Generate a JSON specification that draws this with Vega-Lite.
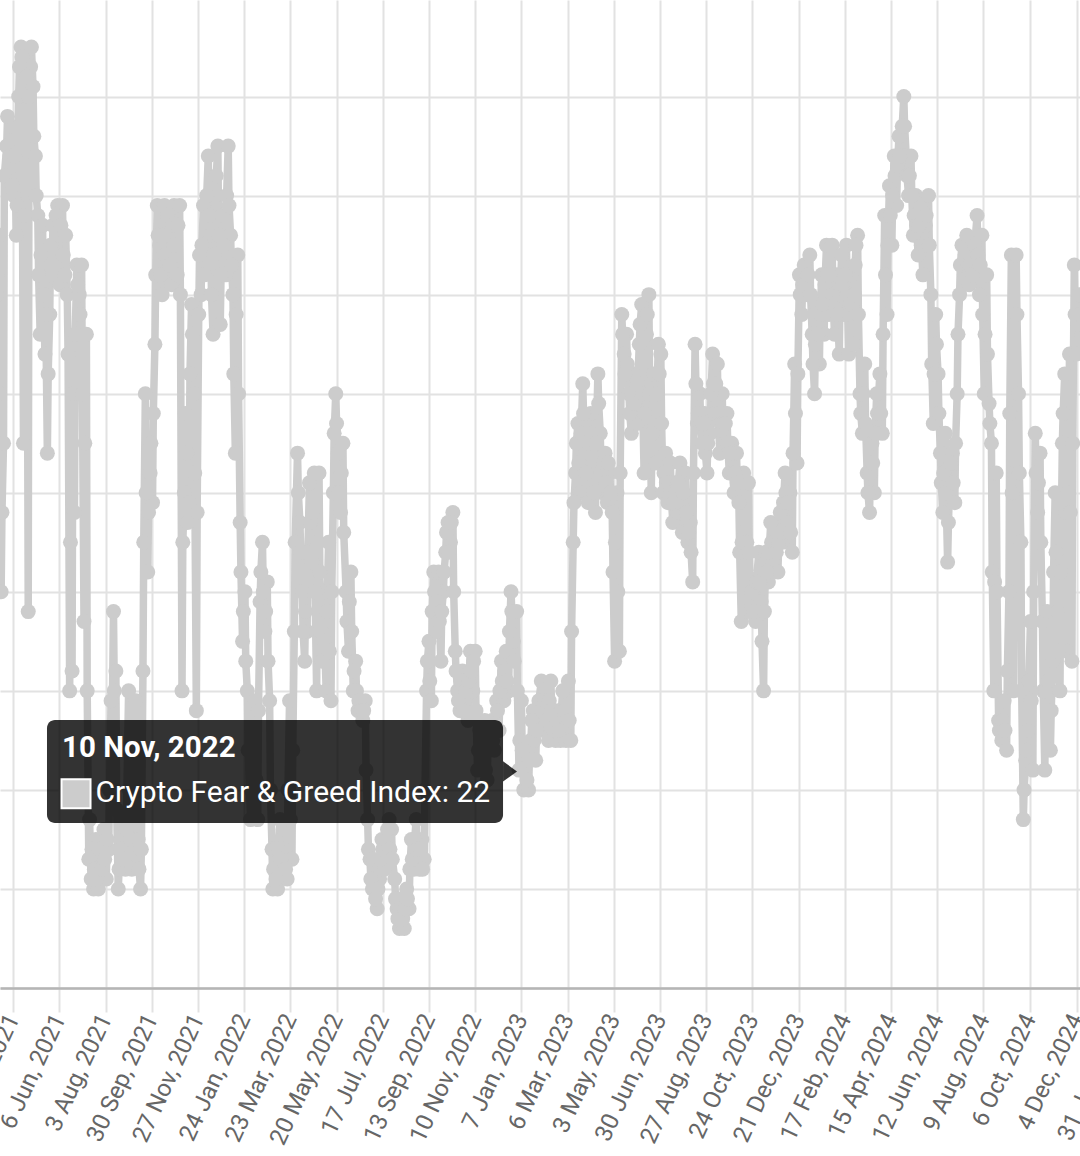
{
  "$schema": "https://vega.github.io/schema/vega-lite/v6.json",
  "width": 1080,
  "height": 988,
  "autosize": {"type": "none"},
  "padding": {"left": 0, "top": 0, "right": 0, "bottom": 168},
  "background": "#ffffff",
  "config": {"view": {"stroke": null}},
  "datasets": {
    "fg": [
      {"d":"2021-03-19","v":70},{"d":"2021-03-22","v":76},{"d":"2021-03-25","v":40},{"d":"2021-03-28","v":55},
      {"d":"2021-04-01","v":85},{"d":"2021-04-04","v":82},{"d":"2021-04-07","v":87},{"d":"2021-04-10","v":80},{"d":"2021-04-13","v":76},{"d":"2021-04-16","v":90},{"d":"2021-04-19","v":95},{"d":"2021-04-22","v":55},{"d":"2021-04-25","v":94},{"d":"2021-04-28","v":38},
      {"d":"2021-05-01","v":93},{"d":"2021-05-04","v":91},{"d":"2021-05-07","v":84},{"d":"2021-05-10","v":78},{"d":"2021-05-13","v":66},{"d":"2021-05-16","v":77},{"d":"2021-05-19","v":64},{"d":"2021-05-22","v":54},{"d":"2021-05-25","v":68},{"d":"2021-05-28","v":72},
      {"d":"2021-06-01","v":75},{"d":"2021-06-04","v":79},{"d":"2021-06-07","v":71},{"d":"2021-06-10","v":79},{"d":"2021-06-13","v":72},{"d":"2021-06-16","v":70},{"d":"2021-06-19","v":30},{"d":"2021-06-22","v":32},{"d":"2021-06-25","v":48},{"d":"2021-06-28","v":73},
      {"d":"2021-07-01","v":70},{"d":"2021-07-04","v":73},{"d":"2021-07-07","v":37},{"d":"2021-07-10","v":66},{"d":"2021-07-13","v":13},{"d":"2021-07-16","v":11},{"d":"2021-07-19","v":10},{"d":"2021-07-22","v":15},{"d":"2021-07-25","v":10},{"d":"2021-07-28","v":14},
      {"d":"2021-08-01","v":16},{"d":"2021-08-04","v":11},{"d":"2021-08-07","v":14},{"d":"2021-08-10","v":29},{"d":"2021-08-13","v":38},{"d":"2021-08-16","v":32},{"d":"2021-08-19","v":10},{"d":"2021-08-22","v":14},{"d":"2021-08-25","v":17},{"d":"2021-08-28","v":12},
      {"d":"2021-09-01","v":30},{"d":"2021-09-04","v":15},{"d":"2021-09-07","v":13},{"d":"2021-09-10","v":29},{"d":"2021-09-13","v":15},{"d":"2021-09-16","v":10},{"d":"2021-09-19","v":32},{"d":"2021-09-22","v":60},{"d":"2021-09-25","v":42},{"d":"2021-09-28","v":52},
      {"d":"2021-10-01","v":49},{"d":"2021-10-04","v":65},{"d":"2021-10-07","v":79},{"d":"2021-10-10","v":75},{"d":"2021-10-13","v":70},{"d":"2021-10-16","v":79},{"d":"2021-10-19","v":72},{"d":"2021-10-22","v":76},{"d":"2021-10-25","v":71},{"d":"2021-10-28","v":79},
      {"d":"2021-11-01","v":72},{"d":"2021-11-04","v":79},{"d":"2021-11-07","v":30},{"d":"2021-11-10","v":50},{"d":"2021-11-13","v":54},{"d":"2021-11-16","v":49},{"d":"2021-11-19","v":69},{"d":"2021-11-22","v":60},{"d":"2021-11-25","v":28},{"d":"2021-11-28","v":68},
      {"d":"2021-12-01","v":70},{"d":"2021-12-04","v":79},{"d":"2021-12-07","v":74},{"d":"2021-12-10","v":84},{"d":"2021-12-13","v":76},{"d":"2021-12-16","v":66},{"d":"2021-12-19","v":80},{"d":"2021-12-22","v":85},{"d":"2021-12-25","v":67},{"d":"2021-12-28","v":78},
      {"d":"2022-01-01","v":72},{"d":"2022-01-04","v":85},{"d":"2022-01-07","v":76},{"d":"2022-01-10","v":70},{"d":"2022-01-13","v":54},{"d":"2022-01-16","v":74},{"d":"2022-01-19","v":47},{"d":"2022-01-22","v":35},{"d":"2022-01-25","v":40},{"d":"2022-01-28","v":30},
      {"d":"2022-02-01","v":17},{"d":"2022-02-04","v":22},{"d":"2022-02-07","v":29},{"d":"2022-02-10","v":17},{"d":"2022-02-13","v":39},{"d":"2022-02-16","v":45},{"d":"2022-02-19","v":36},{"d":"2022-02-22","v":41},{"d":"2022-02-25","v":29},{"d":"2022-02-28","v":14},
      {"d":"2022-03-01","v":10},{"d":"2022-03-04","v":14},{"d":"2022-03-07","v":10},{"d":"2022-03-10","v":17},{"d":"2022-03-13","v":12},{"d":"2022-03-16","v":14},{"d":"2022-03-19","v":11},{"d":"2022-03-22","v":29},{"d":"2022-03-25","v":13},{"d":"2022-03-28","v":36},
      {"d":"2022-04-01","v":54},{"d":"2022-04-04","v":47},{"d":"2022-04-07","v":40},{"d":"2022-04-10","v":33},{"d":"2022-04-13","v":36},{"d":"2022-04-16","v":51},{"d":"2022-04-19","v":43},{"d":"2022-04-22","v":52},{"d":"2022-04-25","v":30},{"d":"2022-04-28","v":52},
      {"d":"2022-05-01","v":36},{"d":"2022-05-04","v":40},{"d":"2022-05-07","v":30},{"d":"2022-05-10","v":45},{"d":"2022-05-13","v":29},{"d":"2022-05-16","v":50},{"d":"2022-05-19","v":60},{"d":"2022-05-22","v":54},{"d":"2022-05-25","v":48},{"d":"2022-05-28","v":55},
      {"d":"2022-06-01","v":40},{"d":"2022-06-04","v":34},{"d":"2022-06-07","v":42},{"d":"2022-06-10","v":30},{"d":"2022-06-13","v":33},{"d":"2022-06-16","v":28},{"d":"2022-06-19","v":29},{"d":"2022-06-22","v":27},{"d":"2022-06-25","v":29},{"d":"2022-06-28","v":17},
      {"d":"2022-07-01","v":13},{"d":"2022-07-04","v":10},{"d":"2022-07-07","v":12},{"d":"2022-07-10","v":8},{"d":"2022-07-13","v":11},{"d":"2022-07-16","v":15},{"d":"2022-07-19","v":12},{"d":"2022-07-22","v":14},{"d":"2022-07-25","v":17},{"d":"2022-07-28","v":16},
      {"d":"2022-08-01","v":11},{"d":"2022-08-04","v":8},{"d":"2022-08-07","v":6},{"d":"2022-08-10","v":9},{"d":"2022-08-13","v":6},{"d":"2022-08-16","v":10},{"d":"2022-08-19","v":8},{"d":"2022-08-22","v":15},{"d":"2022-08-25","v":12},{"d":"2022-08-28","v":17},
      {"d":"2022-09-01","v":12},{"d":"2022-09-04","v":15},{"d":"2022-09-07","v":13},{"d":"2022-09-10","v":30},{"d":"2022-09-13","v":35},{"d":"2022-09-16","v":29},{"d":"2022-09-19","v":42},{"d":"2022-09-22","v":36},{"d":"2022-09-25","v":42},{"d":"2022-09-28","v":33},
      {"d":"2022-10-01","v":40},{"d":"2022-10-04","v":44},{"d":"2022-10-07","v":47},{"d":"2022-10-10","v":45},{"d":"2022-10-13","v":48},{"d":"2022-10-16","v":34},{"d":"2022-10-19","v":30},{"d":"2022-10-22","v":28},{"d":"2022-10-25","v":32},{"d":"2022-10-28","v":29},
      {"d":"2022-11-01","v":27},{"d":"2022-11-04","v":34},{"d":"2022-11-07","v":30},{"d":"2022-11-10","v":34},{"d":"2022-11-13","v":22},{"d":"2022-11-16","v":26},{"d":"2022-11-19","v":23},{"d":"2022-11-22","v":27},{"d":"2022-11-25","v":21},{"d":"2022-11-28","v":25},
      {"d":"2022-12-01","v":27},{"d":"2022-12-04","v":24},{"d":"2022-12-07","v":29},{"d":"2022-12-10","v":26},{"d":"2022-12-13","v":33},{"d":"2022-12-16","v":29},{"d":"2022-12-19","v":34},{"d":"2022-12-22","v":30},{"d":"2022-12-25","v":40},{"d":"2022-12-28","v":35},
      {"d":"2023-01-01","v":38},{"d":"2023-01-04","v":22},{"d":"2023-01-07","v":29},{"d":"2023-01-10","v":20},{"d":"2023-01-13","v":24},{"d":"2023-01-16","v":20},{"d":"2023-01-19","v":25},{"d":"2023-01-22","v":28},{"d":"2023-01-25","v":23},{"d":"2023-01-28","v":27},
      {"d":"2023-02-01","v":31},{"d":"2023-02-04","v":26},{"d":"2023-02-07","v":30},{"d":"2023-02-10","v":25},{"d":"2023-02-13","v":31},{"d":"2023-02-16","v":27},{"d":"2023-02-19","v":25},{"d":"2023-02-22","v":28},{"d":"2023-02-25","v":25},{"d":"2023-02-28","v":30},
      {"d":"2023-03-01","v":26},{"d":"2023-03-04","v":25},{"d":"2023-03-07","v":31},{"d":"2023-03-10","v":25},{"d":"2023-03-13","v":45},{"d":"2023-03-16","v":52},{"d":"2023-03-19","v":57},{"d":"2023-03-22","v":50},{"d":"2023-03-25","v":61},{"d":"2023-03-28","v":55},
      {"d":"2023-04-01","v":49},{"d":"2023-04-04","v":58},{"d":"2023-04-07","v":53},{"d":"2023-04-10","v":48},{"d":"2023-04-13","v":62},{"d":"2023-04-16","v":56},{"d":"2023-04-19","v":50},{"d":"2023-04-22","v":54},{"d":"2023-04-25","v":49},{"d":"2023-04-28","v":52},
      {"d":"2023-05-01","v":48},{"d":"2023-05-04","v":33},{"d":"2023-05-07","v":50},{"d":"2023-05-10","v":34},{"d":"2023-05-13","v":68},{"d":"2023-05-16","v":64},{"d":"2023-05-19","v":66},{"d":"2023-05-22","v":60},{"d":"2023-05-25","v":56},{"d":"2023-05-28","v":62},
      {"d":"2023-06-01","v":57},{"d":"2023-06-04","v":65},{"d":"2023-06-07","v":69},{"d":"2023-06-10","v":52},{"d":"2023-06-13","v":66},{"d":"2023-06-16","v":70},{"d":"2023-06-19","v":50},{"d":"2023-06-22","v":62},{"d":"2023-06-25","v":53},{"d":"2023-06-28","v":65},
      {"d":"2023-07-01","v":64},{"d":"2023-07-04","v":50},{"d":"2023-07-07","v":54},{"d":"2023-07-10","v":49},{"d":"2023-07-13","v":53},{"d":"2023-07-16","v":47},{"d":"2023-07-19","v":51},{"d":"2023-07-22","v":48},{"d":"2023-07-25","v":53},{"d":"2023-07-28","v":46},
      {"d":"2023-08-01","v":52},{"d":"2023-08-04","v":45},{"d":"2023-08-07","v":47},{"d":"2023-08-10","v":41},{"d":"2023-08-13","v":65},{"d":"2023-08-16","v":57},{"d":"2023-08-19","v":60},{"d":"2023-08-22","v":55},{"d":"2023-08-25","v":58},{"d":"2023-08-28","v":52},
      {"d":"2023-09-01","v":56},{"d":"2023-09-04","v":64},{"d":"2023-09-07","v":58},{"d":"2023-09-10","v":63},{"d":"2023-09-13","v":54},{"d":"2023-09-16","v":60},{"d":"2023-09-19","v":55},{"d":"2023-09-22","v":58},{"d":"2023-09-25","v":52},{"d":"2023-09-28","v":55},
      {"d":"2023-10-01","v":50},{"d":"2023-10-04","v":54},{"d":"2023-10-07","v":49},{"d":"2023-10-10","v":37},{"d":"2023-10-13","v":52},{"d":"2023-10-16","v":38},{"d":"2023-10-19","v":51},{"d":"2023-10-22","v":38},{"d":"2023-10-25","v":40},{"d":"2023-10-28","v":37},
      {"d":"2023-11-01","v":44},{"d":"2023-11-04","v":39},{"d":"2023-11-07","v":30},{"d":"2023-11-10","v":44},{"d":"2023-11-13","v":41},{"d":"2023-11-16","v":47},{"d":"2023-11-19","v":43},{"d":"2023-11-22","v":46},{"d":"2023-11-25","v":42},{"d":"2023-11-28","v":48},
      {"d":"2023-12-01","v":45},{"d":"2023-12-04","v":52},{"d":"2023-12-07","v":47},{"d":"2023-12-10","v":50},{"d":"2023-12-13","v":44},{"d":"2023-12-16","v":63},{"d":"2023-12-19","v":53},{"d":"2023-12-22","v":72},{"d":"2023-12-25","v":68},{"d":"2023-12-28","v":73},
      {"d":"2024-01-01","v":70},{"d":"2024-01-04","v":74},{"d":"2024-01-07","v":66},{"d":"2024-01-10","v":60},{"d":"2024-01-13","v":69},{"d":"2024-01-16","v":63},{"d":"2024-01-19","v":72},{"d":"2024-01-22","v":66},{"d":"2024-01-25","v":75},{"d":"2024-01-28","v":68},
      {"d":"2024-02-01","v":75},{"d":"2024-02-04","v":66},{"d":"2024-02-07","v":72},{"d":"2024-02-10","v":64},{"d":"2024-02-13","v":74},{"d":"2024-02-16","v":68},{"d":"2024-02-19","v":75},{"d":"2024-02-22","v":64},{"d":"2024-02-25","v":72},{"d":"2024-02-28","v":65},
      {"d":"2024-03-01","v":73},{"d":"2024-03-04","v":76},{"d":"2024-03-07","v":60},{"d":"2024-03-10","v":56},{"d":"2024-03-13","v":63},{"d":"2024-03-16","v":52},{"d":"2024-03-19","v":48},{"d":"2024-03-22","v":55},{"d":"2024-03-25","v":50},{"d":"2024-03-28","v":60},
      {"d":"2024-04-01","v":62},{"d":"2024-04-04","v":56},{"d":"2024-04-07","v":78},{"d":"2024-04-10","v":68},{"d":"2024-04-13","v":81},{"d":"2024-04-16","v":75},{"d":"2024-04-19","v":84},{"d":"2024-04-22","v":79},{"d":"2024-04-25","v":86},{"d":"2024-04-28","v":83},
      {"d":"2024-05-01","v":90},{"d":"2024-05-04","v":84},{"d":"2024-05-07","v":80},{"d":"2024-05-10","v":84},{"d":"2024-05-13","v":76},{"d":"2024-05-16","v":80},{"d":"2024-05-19","v":74},{"d":"2024-05-22","v":79},{"d":"2024-05-25","v":72},{"d":"2024-05-28","v":77},
      {"d":"2024-06-01","v":80},{"d":"2024-06-04","v":70},{"d":"2024-06-07","v":57},{"d":"2024-06-10","v":68},{"d":"2024-06-13","v":62},{"d":"2024-06-16","v":54},{"d":"2024-06-19","v":48},{"d":"2024-06-22","v":56},{"d":"2024-06-25","v":43},{"d":"2024-06-28","v":52},
      {"d":"2024-07-01","v":54},{"d":"2024-07-04","v":49},{"d":"2024-07-07","v":60},{"d":"2024-07-10","v":70},{"d":"2024-07-13","v":75},{"d":"2024-07-16","v":72},{"d":"2024-07-19","v":76},{"d":"2024-07-22","v":71},{"d":"2024-07-25","v":74},{"d":"2024-07-28","v":72},
      {"d":"2024-08-01","v":78},{"d":"2024-08-04","v":70},{"d":"2024-08-07","v":76},{"d":"2024-08-10","v":60},{"d":"2024-08-13","v":72},{"d":"2024-08-16","v":59},{"d":"2024-08-19","v":55},{"d":"2024-08-22","v":30},{"d":"2024-08-25","v":52},{"d":"2024-08-28","v":27},
      {"d":"2024-09-01","v":25},{"d":"2024-09-04","v":29},{"d":"2024-09-07","v":24},{"d":"2024-09-10","v":40},{"d":"2024-09-13","v":74},{"d":"2024-09-16","v":30},{"d":"2024-09-19","v":74},{"d":"2024-09-22","v":60},{"d":"2024-09-25","v":45},{"d":"2024-09-28","v":17},
      {"d":"2024-10-01","v":23},{"d":"2024-10-04","v":26},{"d":"2024-10-07","v":37},{"d":"2024-10-10","v":22},{"d":"2024-10-13","v":56},{"d":"2024-10-16","v":48},{"d":"2024-10-19","v":54},{"d":"2024-10-22","v":37},{"d":"2024-10-25","v":22},{"d":"2024-10-28","v":38},
      {"d":"2024-11-01","v":24},{"d":"2024-11-04","v":33},{"d":"2024-11-07","v":50},{"d":"2024-11-10","v":38},{"d":"2024-11-13","v":30},{"d":"2024-11-16","v":55},{"d":"2024-11-19","v":62},{"d":"2024-11-22","v":34},{"d":"2024-11-25","v":64},{"d":"2024-11-28","v":33},
      {"d":"2024-12-01","v":73},{"d":"2024-12-04","v":64},{"d":"2024-12-07","v":70},{"d":"2024-12-10","v":66},

      {"d":"2021-03-20","v":72},{"d":"2021-03-23","v":60},{"d":"2021-03-26","v":48},{"d":"2021-03-29","v":82},
      {"d":"2021-04-02","v":88},{"d":"2021-04-05","v":84},{"d":"2021-04-08","v":81},{"d":"2021-04-11","v":84},{"d":"2021-04-14","v":79},{"d":"2021-04-17","v":93},{"d":"2021-04-20","v":94},{"d":"2021-04-23","v":78},{"d":"2021-04-26","v":92},{"d":"2021-04-29","v":90},
      {"d":"2021-05-02","v":95},{"d":"2021-05-05","v":86},{"d":"2021-05-08","v":80},{"d":"2021-05-11","v":72},{"d":"2021-05-14","v":74},{"d":"2021-05-17","v":70},{"d":"2021-05-20","v":68},{"d":"2021-05-23","v":62},{"d":"2021-05-26","v":75},{"d":"2021-05-29","v":77},
      {"d":"2021-06-02","v":78},{"d":"2021-06-05","v":76},{"d":"2021-06-08","v":77},{"d":"2021-06-11","v":74},{"d":"2021-06-14","v":76},{"d":"2021-06-17","v":64},{"d":"2021-06-20","v":45},{"d":"2021-06-23","v":60},{"d":"2021-06-26","v":66},{"d":"2021-06-29","v":71},
      {"d":"2021-07-02","v":68},{"d":"2021-07-05","v":60},{"d":"2021-07-08","v":55},{"d":"2021-07-11","v":30},{"d":"2021-07-14","v":17},{"d":"2021-07-17","v":14},{"d":"2021-07-20","v":12},{"d":"2021-07-23","v":11},{"d":"2021-07-26","v":14},{"d":"2021-07-29","v":12},
      {"d":"2021-08-02","v":13},{"d":"2021-08-05","v":15},{"d":"2021-08-08","v":20},{"d":"2021-08-11","v":24},{"d":"2021-08-14","v":30},{"d":"2021-08-17","v":18},{"d":"2021-08-20","v":12},{"d":"2021-08-23","v":16},{"d":"2021-08-26","v":13},{"d":"2021-08-29","v":16},
      {"d":"2021-09-02","v":20},{"d":"2021-09-05","v":12},{"d":"2021-09-08","v":18},{"d":"2021-09-11","v":20},{"d":"2021-09-14","v":12},{"d":"2021-09-17","v":14},{"d":"2021-09-20","v":45},{"d":"2021-09-23","v":50},{"d":"2021-09-26","v":48},{"d":"2021-09-29","v":55},
      {"d":"2021-10-02","v":58},{"d":"2021-10-05","v":72},{"d":"2021-10-08","v":76},{"d":"2021-10-11","v":72},{"d":"2021-10-14","v":76},{"d":"2021-10-17","v":74},{"d":"2021-10-20","v":78},{"d":"2021-10-23","v":73},{"d":"2021-10-26","v":77},{"d":"2021-10-29","v":75},
      {"d":"2021-11-02","v":77},{"d":"2021-11-05","v":70},{"d":"2021-11-08","v":45},{"d":"2021-11-11","v":58},{"d":"2021-11-14","v":47},{"d":"2021-11-17","v":62},{"d":"2021-11-20","v":66},{"d":"2021-11-23","v":52},{"d":"2021-11-26","v":48},{"d":"2021-11-29","v":74},
      {"d":"2021-12-02","v":75},{"d":"2021-12-05","v":72},{"d":"2021-12-08","v":80},{"d":"2021-12-11","v":78},{"d":"2021-12-14","v":70},{"d":"2021-12-17","v":74},{"d":"2021-12-20","v":82},{"d":"2021-12-23","v":76},{"d":"2021-12-26","v":72},{"d":"2021-12-29","v":75},
      {"d":"2022-01-02","v":80},{"d":"2022-01-05","v":79},{"d":"2022-01-08","v":73},{"d":"2022-01-11","v":62},{"d":"2022-01-14","v":68},{"d":"2022-01-17","v":60},{"d":"2022-01-20","v":42},{"d":"2022-01-23","v":38},{"d":"2022-01-26","v":33},{"d":"2022-01-29","v":24},
      {"d":"2022-02-02","v":20},{"d":"2022-02-05","v":25},{"d":"2022-02-08","v":21},{"d":"2022-02-11","v":28},{"d":"2022-02-14","v":42},{"d":"2022-02-17","v":40},{"d":"2022-02-20","v":38},{"d":"2022-02-23","v":33},{"d":"2022-02-26","v":20},
      {"d":"2022-03-02","v":12},{"d":"2022-03-05","v":11},{"d":"2022-03-08","v":14},{"d":"2022-03-11","v":13},{"d":"2022-03-14","v":16},{"d":"2022-03-17","v":12},{"d":"2022-03-20","v":20},{"d":"2022-03-23","v":17},{"d":"2022-03-26","v":24},{"d":"2022-03-29","v":45},
      {"d":"2022-04-02","v":50},{"d":"2022-04-05","v":44},{"d":"2022-04-08","v":36},{"d":"2022-04-11","v":38},{"d":"2022-04-14","v":44},{"d":"2022-04-17","v":47},{"d":"2022-04-20","v":48},{"d":"2022-04-23","v":40},{"d":"2022-04-26","v":45},{"d":"2022-04-29","v":42},
      {"d":"2022-05-02","v":33},{"d":"2022-05-05","v":35},{"d":"2022-05-08","v":38},{"d":"2022-05-11","v":34},{"d":"2022-05-14","v":40},{"d":"2022-05-17","v":56},{"d":"2022-05-20","v":57},{"d":"2022-05-23","v":50},{"d":"2022-05-26","v":52},{"d":"2022-05-29","v":46},
      {"d":"2022-06-02","v":37},{"d":"2022-06-05","v":39},{"d":"2022-06-08","v":36},{"d":"2022-06-11","v":32},{"d":"2022-06-14","v":30},{"d":"2022-06-17","v":29},{"d":"2022-06-20","v":28},{"d":"2022-06-23","v":28},{"d":"2022-06-26","v":22},{"d":"2022-06-29","v":14},
      {"d":"2022-07-02","v":11},{"d":"2022-07-05","v":13},{"d":"2022-07-08","v":9},{"d":"2022-07-11","v":10},{"d":"2022-07-14","v":13},{"d":"2022-07-17","v":14},{"d":"2022-07-20","v":15},{"d":"2022-07-23","v":16},{"d":"2022-07-26","v":14},{"d":"2022-07-29","v":13},
      {"d":"2022-08-02","v":9},{"d":"2022-08-05","v":7},{"d":"2022-08-08","v":8},{"d":"2022-08-11","v":7},{"d":"2022-08-14","v":8},{"d":"2022-08-17","v":9},{"d":"2022-08-20","v":12},{"d":"2022-08-23","v":13},{"d":"2022-08-26","v":15},{"d":"2022-08-29","v":14},
      {"d":"2022-09-02","v":14},{"d":"2022-09-05","v":12},{"d":"2022-09-08","v":20},{"d":"2022-09-11","v":33},{"d":"2022-09-14","v":31},{"d":"2022-09-17","v":38},{"d":"2022-09-20","v":40},{"d":"2022-09-23","v":39},{"d":"2022-09-26","v":37},{"d":"2022-09-29","v":38},
      {"d":"2022-10-02","v":42},{"d":"2022-10-05","v":46},{"d":"2022-10-08","v":44},{"d":"2022-10-11","v":47},{"d":"2022-10-14","v":40},{"d":"2022-10-17","v":32},{"d":"2022-10-20","v":29},{"d":"2022-10-23","v":31},{"d":"2022-10-26","v":28},{"d":"2022-10-29","v":30},
      {"d":"2022-11-02","v":31},{"d":"2022-11-05","v":32},{"d":"2022-11-08","v":33},{"d":"2022-11-11","v":28},{"d":"2022-11-14","v":24},{"d":"2022-11-17","v":25},{"d":"2022-11-20","v":24},{"d":"2022-11-23","v":22},{"d":"2022-11-26","v":24},{"d":"2022-11-29","v":26},
      {"d":"2022-12-02","v":25},{"d":"2022-12-05","v":27},{"d":"2022-12-08","v":28},{"d":"2022-12-11","v":30},{"d":"2022-12-14","v":31},{"d":"2022-12-17","v":32},{"d":"2022-12-20","v":31},{"d":"2022-12-23","v":36},{"d":"2022-12-26","v":38},{"d":"2022-12-29","v":33},
      {"d":"2023-01-02","v":30},{"d":"2023-01-05","v":25},{"d":"2023-01-08","v":24},{"d":"2023-01-11","v":22},{"d":"2023-01-14","v":21},{"d":"2023-01-17","v":23},{"d":"2023-01-20","v":27},{"d":"2023-01-23","v":25},{"d":"2023-01-26","v":26},{"d":"2023-01-29","v":29},
      {"d":"2023-02-02","v":28},{"d":"2023-02-05","v":29},{"d":"2023-02-08","v":27},{"d":"2023-02-11","v":29},{"d":"2023-02-14","v":28},{"d":"2023-02-17","v":26},{"d":"2023-02-20","v":27},{"d":"2023-02-23","v":26},{"d":"2023-02-26","v":28},
      {"d":"2023-03-02","v":28},{"d":"2023-03-05","v":27},{"d":"2023-03-08","v":27},{"d":"2023-03-11","v":36},{"d":"2023-03-14","v":49},{"d":"2023-03-17","v":55},{"d":"2023-03-20","v":53},{"d":"2023-03-23","v":56},{"d":"2023-03-26","v":58},{"d":"2023-03-29","v":52},
      {"d":"2023-04-02","v":55},{"d":"2023-04-05","v":56},{"d":"2023-04-08","v":50},{"d":"2023-04-11","v":55},{"d":"2023-04-14","v":59},{"d":"2023-04-17","v":52},{"d":"2023-04-20","v":53},{"d":"2023-04-23","v":51},{"d":"2023-04-26","v":53},{"d":"2023-04-29","v":50},
      {"d":"2023-05-02","v":42},{"d":"2023-05-05","v":45},{"d":"2023-05-08","v":40},{"d":"2023-05-11","v":52},{"d":"2023-05-14","v":66},{"d":"2023-05-17","v":62},{"d":"2023-05-20","v":63},{"d":"2023-05-23","v":58},{"d":"2023-05-26","v":60},{"d":"2023-05-29","v":59},
      {"d":"2023-06-02","v":61},{"d":"2023-06-05","v":67},{"d":"2023-06-08","v":60},{"d":"2023-06-11","v":58},{"d":"2023-06-14","v":68},{"d":"2023-06-17","v":60},{"d":"2023-06-20","v":56},{"d":"2023-06-23","v":57},{"d":"2023-06-26","v":60},{"d":"2023-06-29","v":62},
      {"d":"2023-07-02","v":57},{"d":"2023-07-05","v":52},{"d":"2023-07-08","v":51},{"d":"2023-07-11","v":51},{"d":"2023-07-14","v":50},{"d":"2023-07-17","v":49},{"d":"2023-07-20","v":50},{"d":"2023-07-23","v":51},{"d":"2023-07-26","v":49},{"d":"2023-07-29","v":50},
      {"d":"2023-08-02","v":48},{"d":"2023-08-05","v":46},{"d":"2023-08-08","v":44},{"d":"2023-08-11","v":52},{"d":"2023-08-14","v":61},{"d":"2023-08-17","v":58},{"d":"2023-08-20","v":57},{"d":"2023-08-23","v":57},{"d":"2023-08-26","v":54},{"d":"2023-08-29","v":55},
      {"d":"2023-09-02","v":60},{"d":"2023-09-05","v":61},{"d":"2023-09-08","v":61},{"d":"2023-09-11","v":58},{"d":"2023-09-14","v":57},{"d":"2023-09-17","v":57},{"d":"2023-09-20","v":57},{"d":"2023-09-23","v":55},{"d":"2023-09-26","v":54},{"d":"2023-09-29","v":52},
      {"d":"2023-10-02","v":52},{"d":"2023-10-05","v":51},{"d":"2023-10-08","v":44},{"d":"2023-10-11","v":45},{"d":"2023-10-14","v":46},{"d":"2023-10-17","v":45},{"d":"2023-10-20","v":44},{"d":"2023-10-23","v":40},{"d":"2023-10-26","v":38},{"d":"2023-10-29","v":41},
      {"d":"2023-11-02","v":41},{"d":"2023-11-05","v":35},{"d":"2023-11-08","v":38},{"d":"2023-11-11","v":42},{"d":"2023-11-14","v":44},{"d":"2023-11-17","v":45},{"d":"2023-11-20","v":45},{"d":"2023-11-23","v":44},{"d":"2023-11-26","v":45},{"d":"2023-11-29","v":46},
      {"d":"2023-12-02","v":49},{"d":"2023-12-05","v":50},{"d":"2023-12-08","v":49},{"d":"2023-12-11","v":46},{"d":"2023-12-14","v":54},{"d":"2023-12-17","v":58},{"d":"2023-12-20","v":62},{"d":"2023-12-23","v":70},{"d":"2023-12-26","v":71},{"d":"2023-12-29","v":71},
      {"d":"2024-01-02","v":72},{"d":"2024-01-05","v":70},{"d":"2024-01-08","v":63},{"d":"2024-01-11","v":65},{"d":"2024-01-14","v":66},{"d":"2024-01-17","v":68},{"d":"2024-01-20","v":69},{"d":"2024-01-23","v":71},{"d":"2024-01-26","v":72},{"d":"2024-01-29","v":72},
      {"d":"2024-02-02","v":70},{"d":"2024-02-05","v":69},{"d":"2024-02-08","v":68},{"d":"2024-02-11","v":70},{"d":"2024-02-14","v":71},{"d":"2024-02-17","v":72},{"d":"2024-02-20","v":70},{"d":"2024-02-23","v":68},{"d":"2024-02-26","v":69},{"d":"2024-02-29","v":70},
      {"d":"2024-03-02","v":75},{"d":"2024-03-05","v":68},{"d":"2024-03-08","v":58},{"d":"2024-03-11","v":60},{"d":"2024-03-14","v":57},{"d":"2024-03-17","v":50},{"d":"2024-03-20","v":52},{"d":"2024-03-23","v":53},{"d":"2024-03-26","v":56},{"d":"2024-03-29","v":58},
      {"d":"2024-04-02","v":58},{"d":"2024-04-05","v":66},{"d":"2024-04-08","v":72},{"d":"2024-04-11","v":75},{"d":"2024-04-14","v":78},{"d":"2024-04-17","v":80},{"d":"2024-04-20","v":82},{"d":"2024-04-23","v":83},{"d":"2024-04-26","v":84},{"d":"2024-04-29","v":87},
      {"d":"2024-05-02","v":87},{"d":"2024-05-05","v":82},{"d":"2024-05-08","v":82},{"d":"2024-05-11","v":80},{"d":"2024-05-14","v":78},{"d":"2024-05-17","v":77},{"d":"2024-05-20","v":77},{"d":"2024-05-23","v":75},{"d":"2024-05-26","v":75},{"d":"2024-05-29","v":78},
      {"d":"2024-06-02","v":75},{"d":"2024-06-05","v":63},{"d":"2024-06-08","v":62},{"d":"2024-06-11","v":65},{"d":"2024-06-14","v":58},{"d":"2024-06-17","v":51},{"d":"2024-06-20","v":52},{"d":"2024-06-23","v":50},{"d":"2024-06-26","v":47},{"d":"2024-06-29","v":53},
      {"d":"2024-07-02","v":51},{"d":"2024-07-05","v":55},{"d":"2024-07-08","v":66},{"d":"2024-07-11","v":73},{"d":"2024-07-14","v":73},{"d":"2024-07-17","v":74},{"d":"2024-07-20","v":73},{"d":"2024-07-23","v":73},{"d":"2024-07-26","v":72},{"d":"2024-07-29","v":75},
      {"d":"2024-08-02","v":74},{"d":"2024-08-05","v":73},{"d":"2024-08-08","v":68},{"d":"2024-08-11","v":66},{"d":"2024-08-14","v":64},{"d":"2024-08-17","v":57},{"d":"2024-08-20","v":42},{"d":"2024-08-23","v":41},{"d":"2024-08-26","v":40},{"d":"2024-08-29","v":26},
      {"d":"2024-09-02","v":27},{"d":"2024-09-05","v":26},{"d":"2024-09-08","v":32},{"d":"2024-09-11","v":58},{"d":"2024-09-14","v":50},{"d":"2024-09-17","v":52},{"d":"2024-09-20","v":68},{"d":"2024-09-23","v":52},{"d":"2024-09-26","v":30},{"d":"2024-09-29","v":20},
      {"d":"2024-10-02","v":24},{"d":"2024-10-05","v":31},{"d":"2024-10-08","v":29},{"d":"2024-10-11","v":40},{"d":"2024-10-14","v":52},{"d":"2024-10-17","v":51},{"d":"2024-10-20","v":45},{"d":"2024-10-23","v":30},{"d":"2024-10-26","v":30},{"d":"2024-10-29","v":31},
      {"d":"2024-11-02","v":28},{"d":"2024-11-05","v":42},{"d":"2024-11-08","v":44},{"d":"2024-11-11","v":34},{"d":"2024-11-14","v":42},{"d":"2024-11-17","v":58},{"d":"2024-11-20","v":48},{"d":"2024-11-23","v":50},{"d":"2024-11-26","v":48},{"d":"2024-11-29","v":55},
      {"d":"2024-12-02","v":68},{"d":"2024-12-05","v":67},{"d":"2024-12-08","v":68}
    ]
  },
  "layer": [
    {
      "data": {"name": "fg"},
      "mark": {"type": "line", "color": "#cccccc", "strokeWidth": 7.5, "strokeJoin": "round", "clip": true,
               "point": {"filled": true, "size": 225, "color": "#cccccc"}},
      "encoding": {
        "x": {"field": "d", "type": "temporal",
              "scale": {"type": "utc", "domain": [{"year": 2021, "month": 3, "date": 23, "hours": 13, "minutes": 22, "utc": true}, {"year": 2024, "month": 12, "date": 8, "hours": 3, "minutes": 46, "utc": true}]},
              "axis": {
                "title": null,
                "values": [
                  {"year": 2021, "month": 4, "date": 9, "utc": true},
                  {"year": 2021, "month": 6, "date": 6, "utc": true},
                  {"year": 2021, "month": 8, "date": 3, "utc": true},
                  {"year": 2021, "month": 9, "date": 30, "utc": true},
                  {"year": 2021, "month": 11, "date": 27, "utc": true},
                  {"year": 2022, "month": 1, "date": 24, "utc": true},
                  {"year": 2022, "month": 3, "date": 23, "utc": true},
                  {"year": 2022, "month": 5, "date": 20, "utc": true},
                  {"year": 2022, "month": 7, "date": 17, "utc": true},
                  {"year": 2022, "month": 9, "date": 13, "utc": true},
                  {"year": 2022, "month": 11, "date": 10, "utc": true},
                  {"year": 2023, "month": 1, "date": 7, "utc": true},
                  {"year": 2023, "month": 3, "date": 6, "utc": true},
                  {"year": 2023, "month": 5, "date": 3, "utc": true},
                  {"year": 2023, "month": 6, "date": 30, "utc": true},
                  {"year": 2023, "month": 8, "date": 27, "utc": true},
                  {"year": 2023, "month": 10, "date": 24, "utc": true},
                  {"year": 2023, "month": 12, "date": 21, "utc": true},
                  {"year": 2024, "month": 2, "date": 17, "utc": true},
                  {"year": 2024, "month": 4, "date": 15, "utc": true},
                  {"year": 2024, "month": 6, "date": 12, "utc": true},
                  {"year": 2024, "month": 8, "date": 9, "utc": true},
                  {"year": 2024, "month": 10, "date": 6, "utc": true},
                  {"year": 2024, "month": 12, "date": 4, "utc": true}
                ],
                "format": "%-d %b, %Y",
                "labelAngle": -65, "labelAlign": "right", "labelBaseline": "middle",
                "labelFont": "Roboto", "labelFontSize": 24, "labelColor": "#666666",
                "labelPadding": 3, "labelOverlap": false, "labelBound": false, "labelFlush": false,
                "tickSize": 24, "tickColor": "#e2e2e2", "tickWidth": 2,
                "grid": true, "gridColor": "#e2e2e2", "gridWidth": 2,
                "domainColor": "#b5b5b5", "domainWidth": 2.5
              }},
        "y": {"field": "v", "type": "quantitative",
              "scale": {"domain": [0, 99.75], "nice": false, "zero": true},
              "axis": {"title": null, "labels": false, "ticks": false, "domain": false,
                       "values": [0, 10, 20, 30, 40, 50, 60, 70, 80, 90],
                       "grid": true, "gridColor": "#e2e2e2", "gridWidth": 2}}
      }
    },
    {
      "data": {"values": [{"x": "2025-01-31T00:00:00Z", "y": -2.73, "t": "31 Jan, 2025"}]},
      "mark": {"type": "text", "align": "right", "baseline": "middle", "angle": 295, "font": "Roboto", "fontSize": 24, "color": "#666666", "clip": false},
      "encoding": {
        "x": {"field": "x", "type": "temporal"},
        "y": {"field": "y", "type": "quantitative"},
        "text": {"field": "t"}
      }
    },
    {
      "data": {"values": [{"x1": "2021-05-21T13:00:00Z", "x2": "2022-12-14T23:00:00Z", "y1": 27.07, "y2": 16.67}]},
      "mark": {"type": "rect", "color": "#000000", "opacity": 0.8, "cornerRadius": 8},
      "encoding": {
        "x": {"field": "x1", "type": "temporal"},
        "x2": {"field": "x2"},
        "y": {"field": "y1", "type": "quantitative"},
        "y2": {"field": "y2"}
      }
    },
    {
      "data": {"values": [{"x": "2022-12-14T23:00:00Z", "y": 21.87}]},
      "mark": {"type": "point", "shape": "M0,-0.72L1,0L0,0.72Z", "size": 784, "filled": true, "color": "#000000", "opacity": 0.8, "strokeWidth": 0},
      "encoding": {
        "x": {"field": "x", "type": "temporal"},
        "y": {"field": "y", "type": "quantitative"}
      }
    },
    {
      "data": {"values": [{"x": "2021-06-27T00:00:00Z", "y": 19.6}]},
      "mark": {"type": "point", "shape": "square", "size": 841, "filled": true, "fill": "#cccccc", "stroke": "#ffffff", "strokeWidth": 2, "opacity": 1},
      "encoding": {
        "x": {"field": "x", "type": "temporal"},
        "y": {"field": "y", "type": "quantitative"}
      }
    },
    {
      "data": {"values": [{"x": "2021-06-09T10:00:00Z", "y": 23.28, "t": "10 Nov, 2022"}]},
      "mark": {"type": "text", "align": "left", "baseline": "alphabetic", "font": "Roboto", "fontSize": 29.5, "fontWeight": "bold", "color": "#ffffff"},
      "encoding": {
        "x": {"field": "x", "type": "temporal"},
        "y": {"field": "y", "type": "quantitative"},
        "text": {"field": "t"}
      }
    },
    {
      "data": {"values": [{"x": "2021-07-21T11:00:00Z", "y": 18.74, "t": "Crypto Fear & Greed Index: 22"}]},
      "mark": {"type": "text", "align": "left", "baseline": "alphabetic", "font": "Roboto", "fontSize": 30, "color": "#ffffff"},
      "encoding": {
        "x": {"field": "x", "type": "temporal"},
        "y": {"field": "y", "type": "quantitative"},
        "text": {"field": "t"}
      }
    }
  ]
}
